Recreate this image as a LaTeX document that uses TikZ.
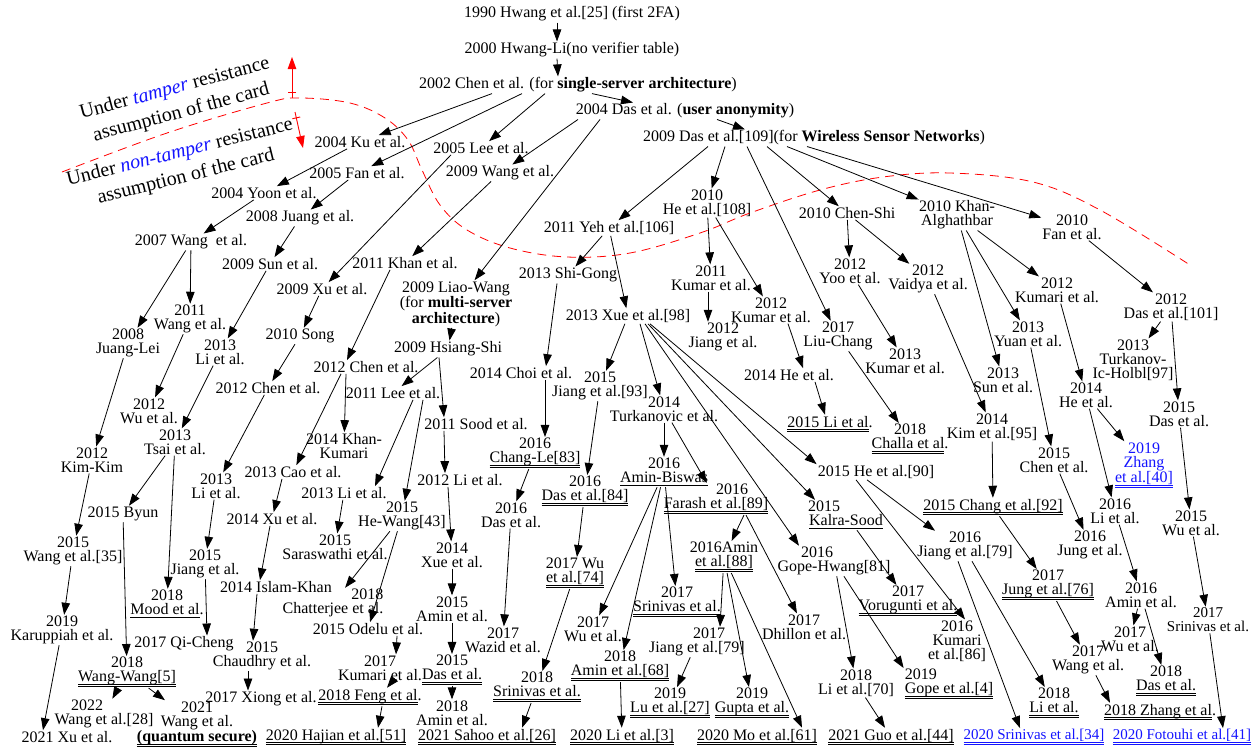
\documentclass[tikz,border=0pt]{standalone}
\usepackage{fontspec}
\setmainfont{Liberation Serif}
\usetikzlibrary{arrows.meta,decorations.markings}
\definecolor{refblue}{RGB}{20,20,255}
\newcommand{\undersingle}[1]{\setbox0\hbox{#1}\leavevmode\rlap{\vrule width\wd0 height -2.6pt depth 3.4pt}\box0}
\newcommand{\underdouble}[1]{\setbox0\hbox{#1}\leavevmode\rlap{\vrule width\wd0 height -2.2pt depth 2.9pt}\rlap{\vrule width\wd0 height -4.3pt depth 5pt}\box0}

\begin{document}
\begin{tikzpicture}[x=1pt, y=-1pt,
  paper/.style={align=center, inner sep=1pt, font=\fontsize{16}{14}\selectfont},
  newer/.style={paper, text=refblue},
  narrow/.style={font=\fontsize{15}{14}\selectfont},
  arr/.style={-{Triangle[length=12pt,width=8.5pt]}, line width=0.8pt},
  boundary/.style={red, dash pattern=on 9pt off 6pt, line width=0.8pt},
  side/.style={red, line width=0.9pt, -{Triangle[length=12pt,width=8.5pt]}, postaction={decorate},
    decoration={markings, mark=at position 6pt with {\draw[red, -, line width=0.9pt] (0,-4pt) -- (0,4pt);}}}]
  \useasboundingbox (0,0) rectangle (1260,750);

  \node[paper] (hwang90) at (572,14) {1990 Hwang et al.[25] (first 2FA)};
  \node[paper] (hwangli00) at (572,50) {2000 Hwang-Li(no verifier table)};
  \node[paper] (chen02) at (578,85) {2002 Chen et al. (for \textbf{single-server architecture})};
  \node[paper] (das04) at (685,111) {2004 Das et al. (\textbf{user anonymity})};
  \node[paper] (das09) at (814,138) {2009 Das et al.[109](for \textbf{Wireless Sensor Networks})};

  \node[paper] (ku04) at (360,142) {2004 Ku et al.};
  \node[paper] (fan05) at (357,173) {2005 Fan et al.};
  \node[paper] (lee05) at (481,148) {2005 Lee et al.};
  \node[paper] (wang09) at (500,173) {2009 Wang et al.};
  \node[paper] (yoon04) at (264,193) {2004 Yoon et al.};
  \node[paper] (juang08) at (300,218) {2008 Juang et al.};
  \node[paper] (wang07) at (191,242) {2007 Wang~ et al.};
  \node[paper] (sun09) at (270,264) {2009 Sun et al.};
  \node[paper] (xu09) at (322,289) {2009 Xu et al.};
  \node[paper] (song10) at (300,336) {2010 Song};
  \node[paper] (khan11) at (405,263) {2011 Khan et al.};
  \node[paper] (liaowang09) at (456,304) {2009 Liao-Wang\\(for \textbf{multi-server}\\\textbf{architecture})};
  \node[paper] (wang11) at (190,319) {2011\\Wang et al.};
  \node[paper] (juanglei08) at (128,343) {2008\\Juang-Lei};
  \node[paper] (li13a) at (220,352) {2013\\Li et al.};
  \node[paper] (chen12a) at (268,388) {2012 Chen et al.};
  \node[paper] (chen12b) at (366,367) {2012 Chen et al.};
  \node[paper] (hsiangshi09) at (448,349) {2009 Hsiang-Shi};
  \node[paper] (lee11) at (393,393) {2011 Lee et al.};
  \node[paper] (sood11) at (476,424) {2011 Sood et al.};
  \node[paper] (khankumari14) at (344,446) {2014 Khan-\\Kumari};
  \node[paper] (wu12) at (149,411) {2012\\Wu et al.};
  \node[paper] (tsai13) at (175,442) {2013\\Tsai et al.};
  \node[paper] (kimkim12) at (92,460) {2012\\Kim-Kim};
  \node[paper] (cao13) at (293,472) {2013 Cao et al.};
  \node[paper] (li13b) at (216,486) {2013\\Li et al.};
  \node[paper] (li13c) at (344,493) {2013 Li et al.};
  \node[paper] (li12) at (460,480) {2012 Li et al.};
  \node[paper] (choi14) at (521,373) {2014 Choi et al.};
  \node[paper] (shigong13) at (568,275) {2013 Shi-Gong};
  \node[paper] (yeh11) at (609,228) {2011 Yeh et al.[106]};
  \node[paper] (he10) at (707,203) {2010\\He et al.[108]};
  \node[paper] (chenshi10) at (847,213) {2010 Chen-Shi};
  \node[paper] (khanalg10) at (957,215) {2010 Khan-\\Alghathbar};
  \node[paper] (fan10) at (1072,227) {2010\\Fan et al.};
  \node[paper] (xue13) at (628,316) {2013 Xue et al.[98]};
  \node[paper] (kumar11) at (711,278) {2011\\Kumar et al.};
  \node[paper] (jiang12) at (723,337) {2012\\Jiang et al.};
  \node[paper] (kumar12) at (771,310) {2012\\Kumar et al.};
  \node[paper] (yoo12) at (850,271) {2012\\Yoo et al.};
  \node[paper] (vaidya12) at (928,279) {2012\\Vaidya et al.};
  \node[paper] (liuchang17) at (838,336) {2017\\Liu-Chang};
  \node[paper] (kumar13) at (905,361) {2013\\Kumar et al.};
  \node[paper] (he14a) at (789,375) {2014 He et al.};
  \node[paper] (li15) at (830,424) {\underdouble{2015 Li et al}.};
  \node[paper] (challa18) at (910,439) {2018\\\underdouble{Challa et al}.};
  \node[paper] (jiang15a) at (600,386) {2015\\Jiang et al.[93]};
  \node[paper] (turk14) at (664,409) {2014\\Turkanovic et al.};
  \node[paper] (he15) at (876,472) {2015 He et al.[90]};
  \node[paper] (aminbiswas16) at (664,472) {2016\\\undersingle{Amin-Biswas}};
  \node[paper] (farash16) at (716,499) {\hspace*{32pt}2016\\\underdouble{Farash et al.[89]}};
  \node[paper] (das16a) at (585,491) {2016\\\underdouble{Das et al.[84]}};
  \node[paper] (changle16) at (535,453) {2016\\\underdouble{Chang-Le[83]}};
  \node[paper] (das16b) at (511,515) {2016\\Das et al.};
  \node[paper] (hewang15) at (402,516) {2015\\He-Wang[43]};
  \node[paper] (saraswathi15) at (335,547) {2015\\Saraswathi et al.};
  \node[paper] (xu14) at (272,519) {2014 Xu et al.};
  \node[paper] (islamkhan14) at (276,587) {2014 Islam-Khan};
  \node[paper] (xue14) at (452,555) {2014\\Xue et al.};
  \node[paper] (amin15) at (452,609) {2015\\Amin et al.};
  \node[paper, align=right] (chatterjee18) at (333,603) {2018\\Chatterjee et al.};
  \node[paper] (odelu15) at (368,629) {2015 Odelu et al.};
  \node[paper] (kumari17) at (380,668) {2017\\Kumari et al.};
  \node[paper] (feng18) at (370,697) {\underdouble{2018 Feng et al}.};
  \node[paper] (hajian20) at (336,737) {\underdouble{2020 Hajian et al.[51]}};
  \node[paper] (xiong17) at (261,699) {2017 Xiong et al.};
  \node[paper] (chaudhry15) at (262,656) {2015\\Chaudhry et al.};
  \node[paper] (qicheng17) at (184,644) {2017 Qi-Cheng};
  \node[paper] (mood18) at (167,604) {2018\\\undersingle{Mood et al}.};
  \node[paper] (jiang15b) at (205,564) {2015\\Jiang et al.};
  \node[paper] (byun15) at (123,514) {2015 Byun};
  \node[paper] (wang15) at (73,551) {2015\\Wang et al.[35]};
  \node[paper] (karuppiah19) at (62,630) {2019\\Karuppiah et al.};
  \node[paper] (wangwang18) at (127,672) {2018\\\underdouble{Wang-Wang[5]}};
  \node[paper] (wang22) at (104,714) {2022\hspace*{34pt}\\Wang et al.[28]};
  \node[paper] (wang21) at (197,724) {2021\\Wang et al.\\\underdouble{\textbf{(quantum secure)}}};
  \node[paper] (xu21) at (67,737) {2021 Xu et al.};
  \node[paper] (wu17a) at (575,573) {2017 Wu\\\underdouble{et al.[74]}};
  \node[paper] (wazid17) at (503,640) {2017\\Wazid et al.};
  \node[paper] (srinivas18) at (537,687) {2018\\\underdouble{Srinivas et al.}};
  \node[paper] (das15) at (452,670) {2015\\\underdouble{Das et al.}};
  \node[paper] (amin18) at (452,713) {2018\\Amin et al.};
  \node[paper] (sahoo21) at (487,737) {\underdouble{2021 Sahoo et al.[26]}};
  \node[paper] (li20) at (622,737) {\underdouble{2020 Li et al.[3]}};
  \node[paper] (wu17b) at (593,629) {2017\\Wu et al.};
  \node[paper] (amin68) at (620,666) {2018\\\underdouble{Amin et al.[68]}};
  \node[paper] (srinivas17a) at (677,602) {2017\\\underdouble{Srinivas et al.}};
  \node[paper] (amin88) at (724,557) {2016Amin\\\underdouble{et al.[88]}};
  \node[paper] (jiang79a) at (697,642) {\hspace*{24pt}2017\\Jiang et al.[79]};
  \node[paper] (lu19) at (670,703) {2019\\\underdouble{Lu et al.[27]}};
  \node[paper] (gupta19) at (752,703) {2019\\\underdouble{Gupta et al.}};
  \node[paper] (mo20) at (757,737) {\underdouble{2020 Mo et al.[61]}};
  \node[paper] (dhillon17) at (804,627) {2017\\Dhillon et al.};
  \node[paper] (gopehwang16) at (834,561) {2016\hspace*{34pt}\\Gope-Hwang[81]};
  \node[paper] (kalrasood15) at (846,515) {2015\hspace*{44pt}\\\undersingle{Kalra-Sood}};
  \node[paper] (vorugunti17) at (908,601) {2017\\\underdouble{Vorugunti et al.}};
  \node[paper] (kumari16) at (957,641) {2016\\Kumari\\et al.[86]};
  \node[paper, align=left] (gope19) at (949,684) {2019\\\underdouble{Gope et al.[4]}};
  \node[paper] (li70) at (856,683) {2018\\Li et al.[70]};
  \node[paper] (guo21) at (891,737) {\underdouble{2021 Guo et al.[44]}};
  \node[paper] (chang92) at (993,507) {\underdouble{2015 Chang et al.[92]}};
  \node[paper] (jiang79b) at (965,546) {2016\\Jiang et al.[79]};
  \node[paper] (jung76) at (1048,585) {2017\\\underdouble{Jung et al.[76]}};
  \node[paper] (wang17) at (1088,660) {2017\\Wang et al.};
  \node[paper] (zhang18) at (1160,712) {\underdouble{2018 Zhang et al}.};
  \node[paper] (li18) at (1054,703) {2018\\\underdouble{Li et al.}};
  \node[newer, narrow] (srinivas34) at (1034,737) {\underdouble{2020 Srinivas et al.[34]}};
  \node[newer, narrow] (fotouhi41) at (1182,737) {\underdouble{2020 Fotouhi et al.[41]}};
  \node[paper] (das18) at (1166,681) {2018\\\underdouble{Das et al.}};
  \node[paper] (wu17c) at (1130,639) {2017\\Wu et al.};
  \node[paper] (amin16) at (1141,595) {2016\\Amin et al.};
  \node[paper, narrow] (srinivas17b) at (1208,620) {2017\\Srinivas et al.};
  \node[paper] (wu15) at (1191,523) {2015\\Wu et al.};
  \node[paper] (li16) at (1115,511) {2016\\Li et al.};
  \node[paper] (jung16) at (1090,545) {2016\\Jung et al.};
  \node[paper] (chen15) at (1054,460) {2015\\Chen et al.};
  \node[paper] (he14b) at (1086,395) {2014\\He et al.};
  \node[newer] (zhang19) at (1144,465) {2019\\Zhang\\\underdouble{et al.[40]}};
  \node[paper] (das15b) at (1179,414) {2015\\Das et al.};
  \node[paper] (turkanov13) at (1133,360) {2013\\Turkanov-\\Ic-Holbl[97]};
  \node[paper] (das101) at (1171,307) {2012\\Das et al.[101]};
  \node[paper] (kumari12) at (1057,290) {2012\\Kumari et al.};
  \node[paper] (yuan13) at (1028,334) {2013\\Yuan et al.};
  \node[paper] (sun13) at (1003,380) {2013\\Sun et al.};
  \node[paper] (kim14) at (992,427) {2014\\Kim et al.[95]};

  \node[rotate=15, align=center, font=\fontsize{20}{25}\selectfont] (tamper) at (178,101)
    {Under \textcolor{refblue}{\textit{tamper}} resistance\\assumption of the card};
  \node[rotate=14, align=center, font=\fontsize{20}{25}\selectfont] (nontamper) at (183,165)
    {Under \textcolor{refblue}{\textit{non-tamper}} resistance\\assumption of the card};

  \draw[boundary] plot[smooth, tension=0.6] coordinates {(62,172) (167,133) (267,103) (300,98) (350,103)
    (385,118) (408,140) (422,170) (440,205) (467,230) (510,248) (567,257) (630,253) (700,233) (750,213)
    (820,190) (883,177) (950,173) (1033,182) (1100,210) (1190,265)};

  \coordinate (upfoot) at (292,98);
  \coordinate (uptip) at (292,57);
  \coordinate (dnfoot) at (295,112);
  \coordinate (dntip) at (303,148);
  \draw[side] (upfoot) -- (uptip);
  \draw[side] (dnfoot) -- (dntip);

  \foreach \a/\b in {ku04/yoon04, fan05/juang08, yoon04/wang07, juang08/sun09, wang09/khan11,
      wang07/juanglei08, wang07/wang11, sun09/li13a, xu09/song10, liaowang09/hsiangshi09,
      wang11/wu12, li13a/tsai13, juanglei08/kimkim12, song10/chen12a, chen12a/li13b,
      hsiangshi09/lee11, li13c/saraswathi15, tsai13/byun15, tsai13/mood18, kimkim12/wang15,
      wang15/karuppiah19, byun15/wangwang18, wangwang18/wang22, wangwang18/wang21, li13b/jiang15b,
      hewang15/chatterjee18, hewang15/odelu15, xue14/amin15, amin15/das15, das15/amin18,
      changle16/das16b, das16b/wazid17, jiang15a/das16a, das16a/wu17a, wu17a/srinivas18,
      yeh11/shigong13, yeh11/xue13, xue13/jiang15a, turk14/aminbiswas16, turk14/farash16,
      aminbiswas16/wu17b, aminbiswas16/amin68, aminbiswas16/srinivas17a, amin68/li20,
      amin88/gupta19, jiang79a/lu19, gopehwang16/li70, li70/guo21, kalrasood15/vorugunti17,
      he10/kumar11, he10/kumar12, liuchang17/challa18, chenshi10/yoo12, chenshi10/vaidya12,
      yoo12/kumar13, vaidya12/kim14, khanalg10/sun13, khanalg10/yuan13, khanalg10/kumari12,
      fan10/das101, das101/turkanov13, das101/das15b, kumari12/he14b, yuan13/chen15,
      he14b/zhang19, he14b/li16, chen15/jung16, das15b/wu15, kim14/chang92, li16/amin16,
      amin16/wu17c, amin16/das18, wu15/srinivas17b, chang92/jung76, jung76/wang17}
    \draw[arr] (\a) -- (\b);

  \draw[arr] ([xshift=-15pt]hwang90.south) -- ([xshift=-15pt]hwangli00.north);
  \draw[arr] ([xshift=-15pt]hwangli00.south) -- ([xshift=-20pt]chen02.north);
  \draw[arr] ([xshift=14pt]chen02.south) -- ([xshift=-52pt]das04.north);
  \draw[arr] ([xshift=32pt]das04.south) -- ([xshift=-69pt]das09.north);
  \draw[arr] ([xshift=-86pt]chen02.south) -- (ku04);
  \draw[arr] ([xshift=-56pt]chen02.south) -- (fan05);
  \draw[arr] ([xshift=-33pt]chen02.south) -- (lee05);
  \draw[arr] ([xshift=-107pt]das04.south) -- (wang09);
  \draw[arr] ([xshift=-85pt]das04.south) -- (liaowang09);
  \draw[arr] ([xshift=-30pt]lee05.south) -- (xu09);
  \draw[arr] ([xshift=-15pt]khan11.south) -- ([xshift=-19pt]chen12b.north);
  \draw[arr] ([xshift=-25pt]chen12b.south) -- (cao13);
  \draw[arr] ([xshift=-20pt]chen12b.south) -- (khankumari14);
  \draw[arr] ([xshift=-9pt]hsiangshi09.south) -- ([xshift=-32pt]sood11.north);
  \draw[arr] ([xshift=-32pt]sood11.south) -- ([xshift=-15pt]li12.north);
  \draw[arr] ([xshift=-12pt]li12.south) -- (xue14);
  \draw[arr] ([xshift=20pt]lee11.south) -- ([xshift=31pt]li13c.north);
  \draw[arr] ([xshift=30pt]lee11.south) -- (hewang15);
  \draw[arr] ([xshift=-11pt]shigong13.south) -- ([xshift=25pt]choi14.north);
  \draw[arr] ([xshift=24pt]choi14.south) -- ([xshift=10pt]changle16.north);
  \draw[arr] ([xshift=-106pt]das09.south) -- (yeh11);
  \draw[arr] ([xshift=-89pt]das09.south) -- (he10);
  \draw[arr] ([xshift=-67pt]das09.south) -- (liuchang17);
  \draw[arr] ([xshift=-47pt]das09.south) -- (chenshi10);
  \draw[arr] ([xshift=-27pt]das09.south) -- (khanalg10);
  \draw[arr] ([xshift=-7pt]das09.south) -- (fan10);
  \draw[arr] ([xshift=-3pt]kumar11.south) -- ([xshift=-15pt]jiang12.north);
  \draw[arr] ([xshift=17pt]kumar12.south) -- ([xshift=14pt]he14a.north);
  \draw[arr] ([xshift=26pt]he14a.south) -- ([xshift=-5pt]li15.north);
  \draw[arr] ([xshift=12pt]xue13.south) -- (turk14);
  \draw[arr] ([xshift=17pt]xue13.south) -- ([xshift=-35pt]gopehwang16.north);
  \draw[arr] ([xshift=20pt]xue13.south) -- ([xshift=-31pt]kalrasood15.north);
  \draw[arr] ([xshift=22pt]xue13.south) -- (he15.north west);
  \draw[arr] ([xshift=-20pt]he15.south) -- ([xshift=8pt]kumari16.north);
  \draw[arr] ([xshift=-9pt]he15.south) -- ([xshift=-30pt]jiang79b.north);
  \draw[arr] ([xshift=7pt]jiang79b.south) -- (li18);
  \draw[arr] ([xshift=-7pt]jiang79b.south) -- ([xshift=-14pt]srinivas34.north);
  \draw[arr] (srinivas17b) -- ([xshift=41pt]fotouhi41.north);
  \draw[arr] (wang17) -- ([xshift=-50pt]zhang18.north);
  \draw[arr] (karuppiah19) -- ([xshift=-24pt]xu21.north);
  \draw[arr] ([xshift=28pt]farash16.south) -- (amin88);
  \draw[arr] ([xshift=30pt]farash16.south) -- (dhillon17);
  \draw[arr] (amin88) -- ([xshift=23pt]jiang79a.north);
  \draw[arr] (amin88) -- ([xshift=45pt]mo20.north);
  \draw[arr] (gopehwang16) -- (gope19.north west);
  \draw[arr] (srinivas18) -- ([xshift=35pt]sahoo21.north);
  \draw[arr] ([xshift=29pt]odelu15.south) -- ([xshift=16pt]kumari17.north);
  \draw[arr] ([xshift=12pt]kumari17.south) -- ([xshift=17pt]feng18.north);
  \draw[arr] ([xshift=12pt]feng18.south) -- ([xshift=42pt]hajian20.north);
  \draw[arr] ([xshift=-19pt]islamkhan14.south) -- ([xshift=-9pt]chaudhry15.north);
  \draw[arr] ([xshift=-14pt]chaudhry15.south) -- ([xshift=-13pt]xiong17.north);
  \draw[arr] ([xshift=-2pt]xu14.south) -- ([xshift=-16pt]islamkhan14.north);
  \draw[arr] ([xshift=-11pt]cao13.south) -- (xu14);
  \draw[arr] (jiang15b) -- ([xshift=23pt]qicheng17.north);
\end{tikzpicture}
\end{document}
